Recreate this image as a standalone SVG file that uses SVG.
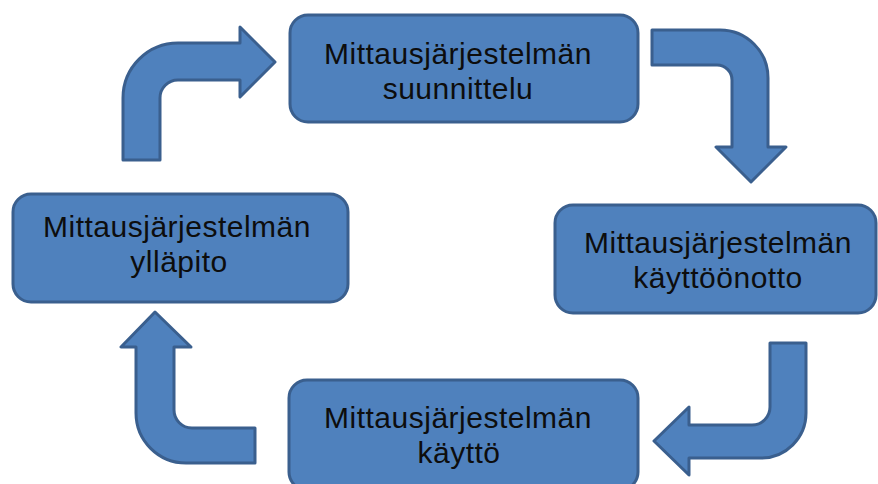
<svg xmlns="http://www.w3.org/2000/svg" width="878" height="484" viewBox="0 0 878 484">
<style>
.box{fill:#4f81bd;stroke:#3a5f8e;stroke-width:3}
.arr{fill:#4f81bd;stroke:#3a5f8e;stroke-width:3;stroke-linejoin:round}
.t{font-family:"Liberation Sans",Arial,sans-serif;font-size:30px;letter-spacing:0.5px;fill:#0d0d0d;text-anchor:middle}
</style>
<rect width="878" height="484" fill="#fff"/>
<g id="connectors">
<path class="arr" d="M123,160 L123,98 A55,55 0 0 1 178,43 L240,43 L240,27 L275,62 L240,97 L240,80 L178,80 A18,18 0 0 0 160,98 L160,160 Z"/>
<path class="arr" d="M652,30 L720,30 A48,48 0 0 1 768,78 L768,147 L786,147 L751,182 L716,147 L732,147 L732,80 A15,15 0 0 0 717,65 L652,65 Z"/>
<path class="arr" d="M770,343 L806,343 L806,413 A45,45 0 0 1 761,458 L689,458 L689,475 L654,441 L689,407 L689,425 L752,425 A18,18 0 0 0 770,407 Z"/>
<path class="arr" d="M255,428 L192,428 A18,18 0 0 1 174,410 L174,347 L191,347 L155,312 L121,347 L136,347 L136,413 A50,50 0 0 0 186,463 L255,463 Z"/>
</g>
<g id="node-suunnittelu">
<rect class="box" x="290" y="15" width="348" height="107" rx="18"/>
<text class="t" x="458" y="64">Mittausjärjestelmän</text>
<text class="t" x="458" y="99">suunnittelu</text>
</g>
<g id="node-kayttoonotto">
<rect class="box" x="555" y="205" width="321" height="108" rx="18"/>
<text class="t" x="718" y="253">Mittausjärjestelmän</text>
<text class="t" x="718" y="288">käyttöönotto</text>
</g>
<g id="node-kaytto">
<rect class="box" x="289" y="380" width="349" height="110" rx="18"/>
<text class="t" x="458" y="428">Mittausjärjestelmän</text>
<text class="t" x="459" y="463">käyttö</text>
</g>
<g id="node-yllapito">
<rect class="box" x="13" y="194" width="335" height="108" rx="18"/>
<text class="t" x="177" y="237">Mittausjärjestelmän</text>
<text class="t" x="179" y="272">ylläpito</text>
</g>
</svg>
